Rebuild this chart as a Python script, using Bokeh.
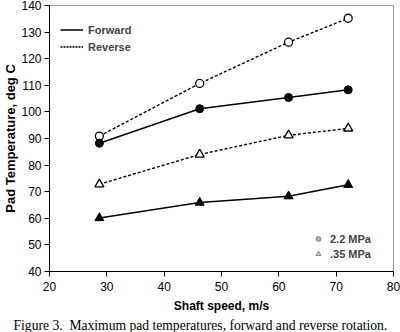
from bokeh.plotting import figure
from bokeh.models import Legend, LegendItem, Title, Range1d, FixedTicker
from bokeh.embed import file_html
from bokeh.resources import INLINE

# data
speed = [28.7, 46.2, 61.7, 72.1]
fwd_22 = [88.2, 101.2, 105.4, 108.3]
rev_22 = [90.9, 110.7, 126.2, 135.2]
rev_035 = [72.8, 84.0, 91.2, 93.8]
fwd_035 = [60.1, 65.9, 68.3, 72.6]

x_ticks = [20, 30, 40, 50, 60, 70, 80]
y_ticks = [40, 50, 60, 70, 80, 90, 100, 110, 120, 130, 140]

FONT = "Liberation Sans"
NAN = float("nan")

p = figure(width=400, height=332, output_backend="svg", toolbar_location=None,
           x_range=Range1d(20, 80), y_range=Range1d(40, 140),
           min_border_left=46, min_border_right=7, min_border_top=5, min_border_bottom=10)
p.background_fill_color = "white"
p.border_fill_color = "white"
p.outline_line_color = "#999999"
p.outline_line_width = 1
p.grid.visible = False

for ax in (p.xaxis[0], p.yaxis[0]):
    ax.axis_line_color = "black"
    ax.major_tick_line_color = "black"
    ax.major_tick_out = 5
    ax.major_tick_in = 0
    ax.minor_tick_line_color = None
    ax.major_label_text_font = FONT
    ax.major_label_text_font_size = "12px"
    ax.major_label_text_color = "black"
    ax.axis_label_text_font = FONT
    ax.axis_label_text_font_style = "bold"
    ax.axis_label_text_color = "black"

p.xaxis.ticker = FixedTicker(ticks=x_ticks)
p.yaxis.ticker = FixedTicker(ticks=y_ticks)
p.xaxis.major_label_standoff = 5
p.yaxis.major_label_standoff = 3
p.xaxis.axis_label = "Shaft speed, m/s"
p.xaxis.axis_label_text_font_size = "12px"
p.xaxis.axis_label_standoff = 5
p.yaxis.axis_label = "Pad Temperature, deg C"
p.yaxis.axis_label_text_font_size = "13px"
p.yaxis.axis_label_standoff = 0

# lines
p.line(speed, rev_22, line_color="black", line_width=1.4, line_dash="3 2")
p.line(speed, fwd_22, line_color="black", line_width=1.5)
p.line(speed, rev_035, line_color="black", line_width=1.4, line_dash="3 2")
p.line(speed, fwd_035, line_color="black", line_width=1.5)

# markers
p.scatter(speed, rev_22, marker="circle", size=8, fill_color="white", line_color="black", line_width=1.3)
p.scatter(speed, fwd_22, marker="circle", size=8, fill_color="black", line_color="black")
p.scatter(speed, rev_035, marker="triangle", size=9, fill_color="white", line_color="black", line_width=1.3)
p.scatter(speed, fwd_035, marker="triangle", size=9, fill_color="black", line_color="black")

# legend 1 (line styles)
r_f = p.line([NAN, NAN], [NAN, NAN], line_color="black", line_width=1.5)
r_r = p.line([NAN, NAN], [NAN, NAN], line_color="black", line_width=1.4, line_dash="2 1")
leg1 = Legend(items=[LegendItem(label="Forward", renderers=[r_f]),
                     LegendItem(label="Reverse", renderers=[r_r])],
              location=(11, 216), margin=0, padding=0, spacing=0,
              glyph_width=23, glyph_height=17, label_height=17, label_standoff=5,
              label_text_font=FONT, label_text_font_style="bold", label_text_font_size="11px",
              border_line_color=None, background_fill_alpha=0)
p.add_layout(leg1, "center")

# legend 2 (pressures)
r_c = p.scatter([NAN], [NAN], marker="circle", size=9, fill_color="#b0b0b0", line_color="#808080")
r_t = p.scatter([NAN], [NAN], marker="triangle", size=10, fill_color="#d8d8d8", line_color="#808080")
leg2 = Legend(items=[LegendItem(label="2.2 MPa", renderers=[r_c]),
                     LegendItem(label=".35 MPa", renderers=[r_t])],
              location=(263, 10), margin=0, padding=0, spacing=0,
              glyph_width=12, glyph_height=15, label_height=15, label_standoff=6,
              label_text_font=FONT, label_text_font_style="bold", label_text_font_size="11px",
              border_line_color=None, background_fill_alpha=0)
p.add_layout(leg2, "center")

cap = Title(text="Figure 3.\u00a0 Maximum pad temperatures, forward and reverse rotation.",
            text_font="Liberation Serif", text_font_size="13.6px", text_font_style="normal",
            text_color="black", align="left", offset=-36, standoff=0)
p.add_layout(cap, "below")

open("out.html", "w").write(file_html(p, INLINE))
